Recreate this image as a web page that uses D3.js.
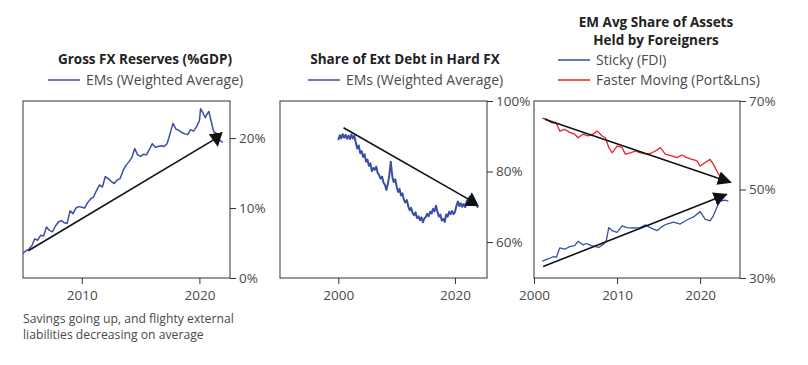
<!DOCTYPE html>
<html>
<head>
<meta charset="utf-8">
<script src="https://cdn.jsdelivr.net/npm/d3@7"></script>
<style>
  body { margin: 0; background: #fff; }
  svg text { font-family: "Open Sans", "Noto Sans", sans-serif; }
  .tick text { fill: #4a4a4a; font-size: 13.5px; }
  .title { font-weight: bold; font-size: 13.5px; fill: #222; }
  .legend { font-size: 14px; fill: #4a4a4a; }
  .note { font-size: 12.2px; fill: #4a4a4a; }
</style>
</head>
<body>
<div id="chart"></div>
<script>
// Chart data
var reservesDates = [2005.0, 2005.25, 2005.5, 2005.75, 2006.0, 2006.25, 2006.5, 2006.75, 2007.0, 2007.25, 2007.5, 2007.75,
  2008.0, 2008.25, 2008.5, 2008.75, 2009.0, 2009.25, 2009.5, 2009.75, 2010.0, 2010.25, 2010.5, 2010.75,
  2011.0, 2011.25, 2011.5, 2011.75, 2012.0, 2012.25, 2012.5, 2012.75, 2013.0, 2013.25, 2013.5, 2013.75,
  2014.0, 2014.25, 2014.5, 2014.75, 2015.0, 2015.25, 2015.5, 2015.75, 2016.0, 2016.25, 2016.5, 2016.75,
  2017.0, 2017.25, 2017.5, 2017.75, 2018.0, 2018.25, 2018.5, 2018.75, 2019.0, 2019.25, 2019.5, 2019.75,
  2020.0, 2020.1, 2020.3, 2020.5, 2020.6, 2020.8, 2021.0, 2021.2, 2021.4, 2021.7, 2022.0];
var reservesValues = [3.5, 3.9, 4.1, 4.6, 5.6, 5.4, 6.1, 6.0, 7.3, 6.8, 6.6, 7.4,
  8.0, 8.2, 7.9, 7.8, 9.6, 9.2, 10.0, 10.2, 10.1, 10.0, 10.8, 11.3,
  11.6, 12.5, 13.3, 13.0, 14.5, 14.2, 13.8, 13.5, 14.0, 14.2, 15.3, 16.1,
  16.6, 17.2, 18.5, 17.6, 17.4, 17.7, 17.6, 18.4, 19.2, 18.7, 18.8, 18.9,
  18.8, 19.2, 20.6, 22.1, 21.3, 21.1, 20.8, 20.6, 20.5, 21.2, 21.0, 21.6,
  22.5, 24.2, 23.6, 22.9, 23.3, 23.8, 22.4, 21.0, 20.7, 19.7, 19.4];

var debtDates = [2000.0, 2000.25, 2000.5, 2000.75, 2001.0, 2001.25, 2001.5, 2001.75, 2002.0, 2002.25, 2002.5, 2002.75,
  2003.0, 2003.25, 2003.5, 2003.75, 2004.0, 2004.25, 2004.5, 2004.75, 2005.0, 2005.25, 2005.5, 2005.75,
  2006.0, 2006.25, 2006.5, 2006.75, 2007.0, 2007.25, 2007.5, 2007.75, 2008.0, 2008.25, 2008.5, 2008.75,
  2009.0, 2009.15, 2009.3, 2009.5, 2009.75, 2010.0, 2010.25, 2010.5, 2010.75, 2011.0, 2011.25, 2011.5, 2011.75,
  2012.0, 2012.25, 2012.5, 2012.75, 2013.0, 2013.25, 2013.5, 2013.75, 2014.0, 2014.25, 2014.5, 2014.75,
  2015.0, 2015.25, 2015.5, 2015.75, 2016.0, 2016.25, 2016.5, 2016.75, 2017.0, 2017.25, 2017.5, 2017.75,
  2018.0, 2018.25, 2018.5, 2018.75, 2019.0, 2019.25, 2019.5, 2019.75, 2020.0, 2020.25, 2020.5, 2020.75,
  2021.0, 2021.25, 2021.5, 2021.75, 2022.0, 2022.25, 2022.5, 2022.75, 2023.0, 2023.25, 2023.5, 2023.75, 2024.0];
var debtValues = [88.9, 90.3, 89.4, 90.6, 89.6, 90.4, 89.3, 90.2, 89.2, 90.5, 89.4, 90.1,
  88.2, 86.5, 87.4, 85.2, 85.8, 84.1, 84.9, 82.8, 83.4, 81.6, 82.3, 80.1,
  81.0, 80.5, 81.4, 79.6, 79.0, 78.0, 78.6, 76.8, 76.2, 74.8, 76.5, 79.0,
  82.8, 80.3, 78.2, 77.0, 77.8, 75.8, 74.2, 75.1, 73.2, 73.8, 72.0, 71.2, 71.9,
  70.1, 69.0, 69.7, 68.2, 67.6, 68.4, 66.8, 67.3, 66.2, 67.0, 65.6, 66.7,
  67.1, 68.0, 67.3, 68.6, 68.1, 69.4, 68.7, 70.3, 68.6, 67.2, 67.8, 66.1,
  66.6, 65.7, 67.8, 67.2, 68.6, 67.9, 68.8, 67.9, 68.5, 70.2, 71.5, 70.2,
  71.0, 70.0, 70.8, 69.9, 71.5, 72.0, 72.8, 71.4, 72.0, 70.9, 70.6, 70.2, 69.8];

var assetDates = [2001.0, 2001.5, 2002.1, 2002.7, 2003.1, 2003.7, 2004.3, 2004.9, 2005.3, 2005.9, 2006.5, 2007.1,
  2007.6, 2008.2, 2008.6, 2009.0, 2009.4, 2010.0, 2010.6, 2011.0, 2011.6, 2012.2, 2012.8, 2013.6,
  2014.2, 2014.8, 2015.2, 2015.8, 2016.6, 2017.2, 2017.8, 2018.4, 2019.0, 2019.6, 2020.0, 2020.6,
  2021.2, 2021.6, 2022.0, 2022.3, 2022.6];
var fasterValues = [66.1, 65.9, 65.1, 64.9, 63.2, 63.6, 62.9, 62.5, 61.7, 62.5, 62.1, 62.5,
  63.2, 62.1, 61.7, 59.5, 58.3, 59.8, 59.5, 58.0, 58.3, 58.7, 58.3, 58.0,
  58.3, 58.9, 59.5, 58.0, 57.6, 57.2, 57.8, 57.2, 56.8, 56.5, 55.3, 56.1,
  56.8, 55.7, 54.2, 53.3, 52.3];

var stickyDates = [2001.0, 2001.7, 2002.3, 2002.7, 2003.1, 2003.7, 2004.3, 2004.9, 2005.3, 2005.9, 2006.3, 2006.9,
  2007.8, 2008.4, 2008.7, 2009.0, 2009.4, 2010.0, 2010.6, 2011.2, 2012.0, 2012.8, 2013.4, 2014.0,
  2014.8, 2015.4, 2016.0, 2016.8, 2017.6, 2018.4, 2019.2, 2020.0, 2020.6, 2021.2, 2021.6, 2022.0,
  2022.4, 2023.0, 2023.4];
var stickyValues = [33.8, 34.3, 34.8, 34.7, 36.8, 36.5, 37.1, 37.3, 38.3, 37.5, 37.8, 37.3,
  36.9, 37.7, 38.4, 41.4, 40.7, 40.3, 41.8, 41.4, 41.3, 41.4, 42.0, 41.4,
  40.7, 41.6, 42.2, 42.6, 42.2, 43.1, 43.8, 45.0, 43.3, 42.9, 44.1, 45.9,
  47.4, 47.6, 47.4];

// trend arrows [start, end] as [year, value]
var reservesArrow = [[2005.45, 3.9], [2021.45, 20.0]];
var debtArrow = [[2000.9, 92.4], [2022.9, 71.6]];
var fasterArrow = [[2001.3, 65.9], [2023.7, 51.6]];
var stickyArrow = [[2001.1, 32.6], [2023.2, 48.9]];

var blue = "#3a4ea8";
var red = "#e8212a";
var axisColor = "#333";

var svg = d3.select("#chart").append("svg")
  .attr("width", 808)
  .attr("height", 365);

var defs = svg.append("defs");

// fixed-angle arrowheads for first two panels, auto for last
function addMarker(id, orient, refX) {
  defs.append("marker")
    .attr("id", id)
    .attr("viewBox", "0 -7 15 14")
    .attr("refX", refX)
    .attr("refY", 0)
    .attr("markerUnits", "userSpaceOnUse")
    .attr("markerWidth", 15)
    .attr("markerHeight", 14)
    .attr("orient", orient)
    .append("path")
    .attr("d", "M0,-7L14,0L0,7Z")
    .attr("fill", "#111");
}
addMarker("arrowDown", 81, 5);
addMarker("arrowUp", -90, 5);
addMarker("arrowAuto", "auto", 13);

function panel(opts) {
  var x = d3.scaleLinear().domain(opts.xDomain).range([opts.left, opts.right]);
  var y = d3.scaleLinear().domain(opts.yDomain).range([opts.bottom, opts.top]);

  var g = svg.append("g");

  // frame
  g.append("rect")
    .attr("x", opts.left)
    .attr("y", opts.top)
    .attr("width", opts.right - opts.left)
    .attr("height", opts.bottom - opts.top)
    .attr("fill", "none")
    .attr("stroke", axisColor)
    .attr("stroke-width", 1);

  var xAxis = g.append("g")
    .attr("transform", `translate(0, ${opts.bottom})`)
    .call(d3.axisBottom(x).tickValues(opts.xTicks).tickFormat(d3.format("d")).tickSize(6).tickPadding(6));

  var yAxis = g.append("g")
    .attr("transform", `translate(${opts.right}, 0)`)
    .call(d3.axisRight(y).tickValues(opts.yTicks).tickFormat(d => d + "%").tickSize(6).tickPadding(3));

  [xAxis, yAxis].forEach(function(a) {
    a.select(".domain").remove();
    a.selectAll(".tick line").attr("stroke", axisColor);
  });

  opts.series.forEach(function(s) {
    var pts = s.dates.map((d, i) => [d, s.values[i]]);
    g.append("path")
      .datum(pts)
      .attr("fill", "none")
      .attr("stroke", s.color)
      .attr("stroke-width", s.width)
      .attr("stroke-linejoin", "round")
      .attr("d", d3.line().x(d => x(d[0])).y(d => y(d[1])));
  });

  opts.arrows.forEach(function(a) {
    g.append("line")
      .attr("x1", x(a.pts[0][0]))
      .attr("y1", y(a.pts[0][1]))
      .attr("x2", x(a.pts[1][0]))
      .attr("y2", y(a.pts[1][1]))
      .attr("stroke", "#111")
      .attr("stroke-width", 1.6)
      .attr("marker-end", `url(#${a.marker})`);
  });
  return g;
}

panel({
  left: 23, right: 230, top: 101, bottom: 278,
  xDomain: [2005, 2022.6], yDomain: [0, 25.3],
  xTicks: [2010, 2020], yTicks: [0, 10, 20],
  series: [{dates: reservesDates, values: reservesValues, color: blue, width: 1.5}],
  arrows: [{pts: reservesArrow, marker: "arrowDown"}]
});

panel({
  left: 280, right: 487, top: 101, bottom: 278,
  xDomain: [1990, 2025.5], yDomain: [49.8, 100],
  xTicks: [2000, 2020], yTicks: [60, 80, 100],
  series: [{dates: debtDates, values: debtValues, color: blue, width: 2}],
  arrows: [{pts: debtArrow, marker: "arrowUp"}]
});

panel({
  left: 534, right: 740, top: 101, bottom: 278,
  xDomain: [2000, 2024.8], yDomain: [30, 70],
  xTicks: [2000, 2010, 2020], yTicks: [30, 50, 70],
  series: [
    {dates: assetDates, values: fasterValues, color: red, width: 1.3},
    {dates: stickyDates, values: stickyValues, color: blue, width: 1.3}
  ],
  arrows: [{pts: fasterArrow, marker: "arrowAuto"}, {pts: stickyArrow, marker: "arrowAuto"}]
});

// titles
function title(x, y, txt) {
  svg.append("text").attr("class", "title").attr("x", x).attr("y", y)
    .attr("text-anchor", "middle").text(txt);
}
title(145, 64, "Gross FX Reserves (%GDP)");
title(405, 64, "Share of Ext Debt in Hard FX");
title(656, 27, "EM Avg Share of Assets");
title(656, 45, "Held by Foreigners");

// legends
function legend(x, y, color, txt) {
  svg.append("line").attr("x1", x).attr("x2", x + 32).attr("y1", y).attr("y2", y)
    .attr("stroke", color).attr("stroke-width", 1.5);
  svg.append("text").attr("class", "legend").attr("x", x + 38).attr("y", y + 5).text(txt);
}
legend(48, 80, blue, "EMs (Weighted Average)");
legend(308, 80, blue, "EMs (Weighted Average)");
legend(558, 60, blue, "Sticky (FDI)");
legend(558, 80, red, "Faster Moving (Port&Lns)");

// footnote, two lines
svg.append("text").attr("class", "note").attr("x", 23).attr("y", 323)
  .text("Savings going up, and flighty external");
svg.append("text").attr("class", "note").attr("x", 23).attr("y", 339)
  .text("liabilities decreasing on average");
</script>
</body>
</html>
